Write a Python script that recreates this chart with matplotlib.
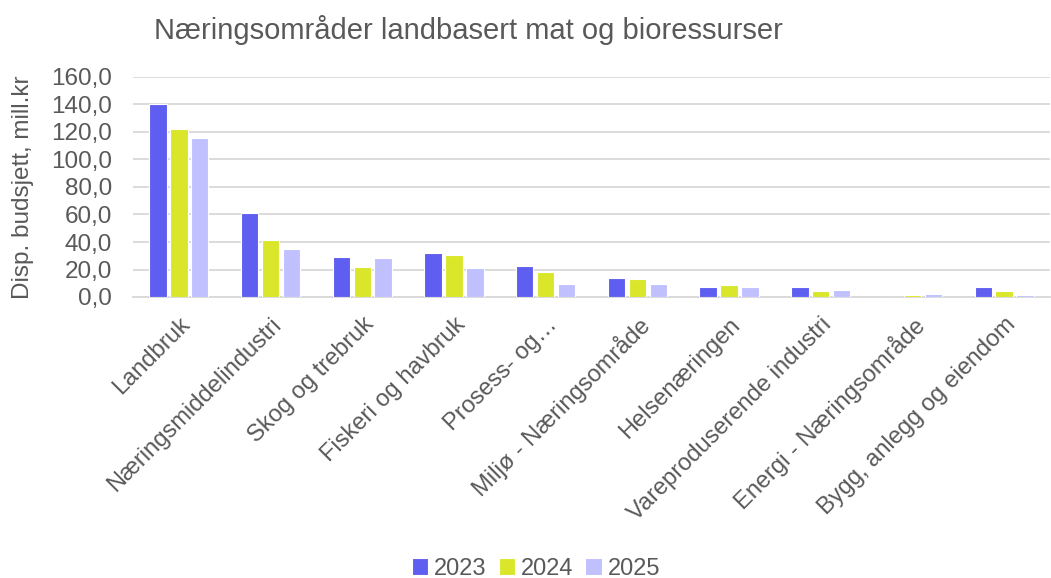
import numpy as np
import matplotlib.pyplot as plt

plt.rcParams['font.family'] = ['Liberation Sans', 'DejaVu Sans']

categories = ['Landbruk', 'Næringsmiddelindustri', 'Skog og trebruk', 'Fiskeri og havbruk',
              'Prosess- og…', 'Miljø - Næringsområde', 'Helsenæringen',
              'Vareproduserende industri', 'Energi - Næringsområde', 'Bygg, anlegg og eiendom']
years = ['2023', '2024', '2025']
v2023 = [140.3, 61.0, 29.0, 31.8, 22.8, 13.8, 7.0, 7.0, 0.0, 7.5]
v2024 = [122.2, 41.5, 21.6, 30.3, 18.4, 12.8, 8.7, 4.4, 1.2, 4.4]
v2025 = [115.6, 35.0, 28.4, 21.3, 9.5, 9.5, 7.0, 5.2, 2.0, 1.5]
colors = ['#5e5ef0', '#d9e62a', '#c0c0ff']
text_col = '#595959'

fig = plt.figure(figsize=(10.51, 5.78), dpi=100)
ax = fig.add_axes([133 / 1051, 1 - 297 / 578, (1050 - 133) / 1051, 220 / 578])

x = np.arange(len(categories))
w = 0.19
step = 0.228
for i, (vals, yr) in enumerate(zip([v2023, v2024, v2025], years)):
    ax.bar(x + (i - 1) * step, vals, width=w, color=colors[i], edgecolor='white',
           linewidth=0.8, label=yr, zorder=3)

ax.set_xlim(-0.5, len(categories) - 0.5)
ax.set_ylim(0, 160)
ax.set_yticks(np.arange(0, 161, 20))
ax.set_yticklabels([f'{v:.1f}'.replace('.', ',') for v in np.arange(0, 161, 20)],
                   fontsize=17.5, color=text_col)
ax.yaxis.grid(True, color='#d9d9d9', linewidth=1.3, zorder=0)
ax.set_xticks(x)
ax.set_xticklabels(categories, rotation=45, ha='right', rotation_mode='anchor',
                   fontsize=17, color=text_col)
ax.tick_params(axis='y', length=0, pad=15)
ax.tick_params(axis='x', length=0, pad=12)
for s in ['top', 'right', 'left']:
    ax.spines[s].set_visible(False)
ax.spines['bottom'].set_color('#d9d9d9')
ax.spines['bottom'].set_linewidth(1.3)

ax.set_ylabel('Disp. budsjett, mill.kr', fontsize=17.5, color=text_col, labelpad=12)
fig.text(468 / 1051, 1 - 30 / 578, 'Næringsområder landbasert mat og bioressurser',
         fontsize=21, color=text_col, ha='center', va='center')

fig.legend(loc='center', bbox_to_anchor=(536 / 1051, 1 - 569 / 578), ncol=3, frameon=False,
           fontsize=17, labelcolor=text_col, handlelength=0.7, handleheight=0.7,
           handletextpad=0.25, columnspacing=0.5)

fig.savefig('out.png', dpi=100)
